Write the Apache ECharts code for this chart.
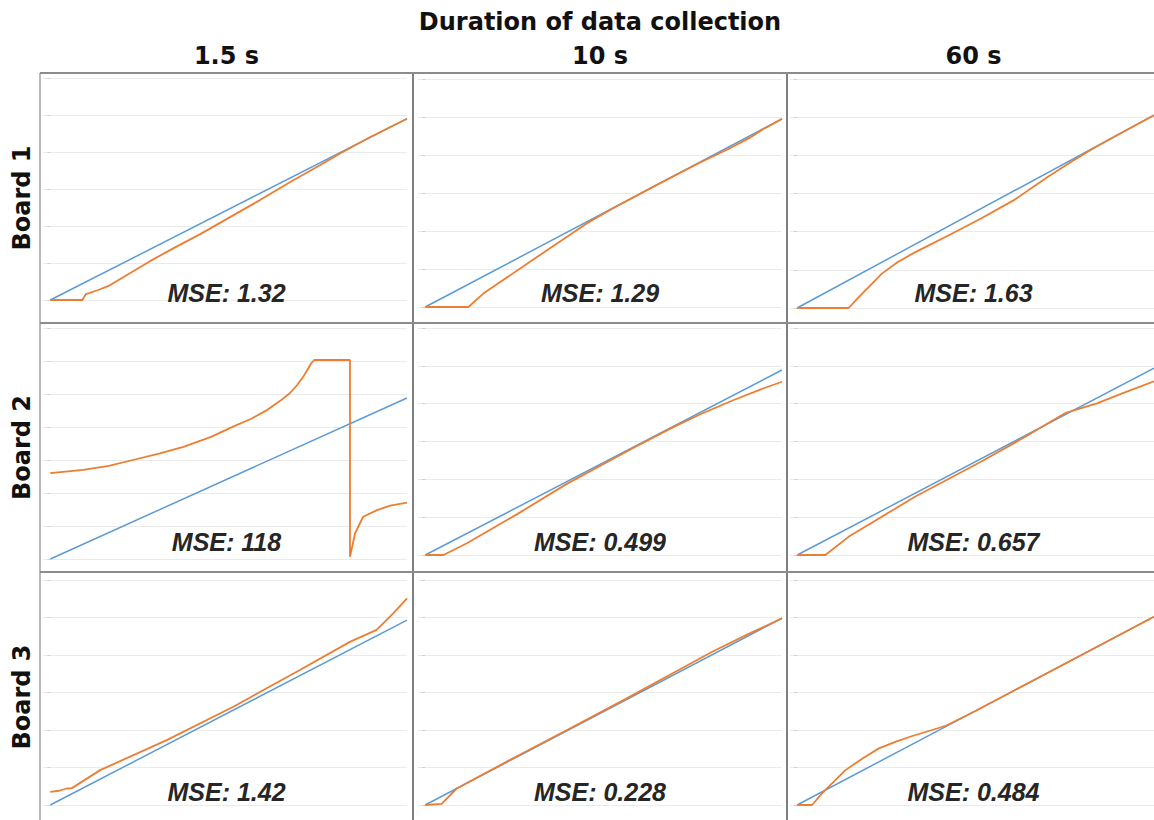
<!DOCTYPE html>
<html>
<head>
<meta charset="utf-8">
<title>Duration of data collection</title>
<script src="https://cdn.jsdelivr.net/npm/echarts@6/dist/echarts.min.js"></script>
<style>
  html, body { margin: 0; padding: 0; background: #ffffff; }
  #chart { width: 1154px; height: 820px; }
</style>
</head>
<body>
<div id="chart"></div>
<script>
// ---- data -------------------------------------------------------------
const headerTitle = 'Duration of data collection';
const durations = ['1.5 s', '10 s', '60 s'];
const boards = ['Board 1', 'Board 2', 'Board 3'];

// MSE of each board / duration
const mseValues = [
  ['1.32', '1.29', '1.63'],
  ['118', '0.499', '0.657'],
  ['1.42', '0.228', '0.484']
];

// last value of the ideal (y = x) reference line in each panel
const idealEnd = [
  [4.90, 4.95, 5.05],
  [4.88, 4.89, 4.94],
  [4.93, 4.98, 5.02]
];

// top of the value axis in each panel (gridline step is 1)
const yAxisMax = [
  [6, 6, 6],
  [7, 6, 6],
  [6, 6, 6]
];

// measured response, [input, output]
const board1_1s5 = [[0, 0], [0.44, 0], [0.49, 0.16], [0.66, 0.27], [0.80, 0.38], [1.03, 0.65],
  [1.37, 1.05], [1.72, 1.43], [2.06, 1.78], [2.47, 2.24], [2.88, 2.70], [3.29, 3.18],
  [3.71, 3.65], [3.98, 3.96], [4.39, 4.40], [4.90, 4.90]];
const board1_10s = [[0, 0], [0.60, 0], [0.81, 0.36], [1.50, 1.25], [2.24, 2.20], [2.60, 2.59],
  [3.20, 3.20], [3.80, 3.79], [4.20, 4.15], [4.50, 4.45], [4.70, 4.69], [4.95, 4.95]];
const board1_60s = [[0, 0], [0.73, 0], [0.88, 0.30], [1.02, 0.56], [1.20, 0.90], [1.42, 1.20],
  [1.66, 1.45], [2.14, 1.90], [2.61, 2.35], [3.08, 2.84], [3.55, 3.44], [3.88, 3.83],
  [4.20, 4.19], [4.60, 4.60], [5.05, 5.05]];

const board2_1s5 = [[0, 2.60], [0.45, 2.70], [0.80, 2.82], [1.13, 3.00], [1.50, 3.20], [1.82, 3.40],
  [2.20, 3.70], [2.50, 4.01], [2.75, 4.25], [2.97, 4.52], [3.15, 4.80], [3.28, 5.03],
  [3.38, 5.28], [3.46, 5.52], [3.53, 5.78], [3.57, 5.93], [3.61, 6.03], [4.10, 6.03],
  [4.10, 0.07], [4.17, 0.78], [4.28, 1.28], [4.47, 1.48], [4.65, 1.62], [4.88, 1.71]];
const board2_10s = [[0, 0], [0.25, 0], [0.57, 0.31], [1.26, 1.08], [1.94, 1.88], [2.85, 2.83],
  [3.40, 3.38], [3.77, 3.72], [4.22, 4.09], [4.60, 4.38], [4.89, 4.58]];
const board2_60s = [[0, 0], [0.39, 0], [0.71, 0.48], [1.63, 1.54], [2.55, 2.47], [3.20, 3.17],
  [3.46, 3.47], [3.72, 3.76], [3.90, 3.86], [4.15, 4.01], [4.50, 4.27], [4.94, 4.59]];

const board3_1s5 = [[0, 0.35], [0.12, 0.38], [0.23, 0.44], [0.30, 0.45], [0.69, 0.93], [1.61, 1.73],
  [2.53, 2.62], [3.45, 3.60], [4.14, 4.35], [4.51, 4.67], [4.74, 5.11], [4.93, 5.51]];
const board3_10s = [[0, 0], [0.23, 0.03], [0.44, 0.44], [1.20, 1.22], [2.00, 2.02], [2.80, 2.83],
  [3.50, 3.56], [4.00, 4.08], [4.50, 4.55], [4.98, 4.98]];
const board3_60s = [[0, 0], [0.21, 0], [0.35, 0.31], [0.68, 0.93], [0.92, 1.24], [1.15, 1.51],
  [1.39, 1.69], [1.62, 1.84], [1.90, 2.00], [2.10, 2.12], [2.50, 2.50], [3.50, 3.50],
  [4.30, 4.30], [5.02, 5.02]];

const measured = [
  [board1_1s5, board1_10s, board1_60s],
  [board2_1s5, board2_10s, board2_60s],
  [board3_1s5, board3_10s, board3_60s]
];

// ---- layout -----------------------------------------------------------
const colLeft = [40, 413, 787];
const colRight = [413, 787, 1160];
const rowTop = [73, 323, 572];
const rowBottom = [323, 572, 822];
const plotLeft = [43, 418, 790];
const plotRight = [407, 782, 1154];
const plotTop = [[78, 79, 79], [328, 328, 328], [580, 580, 580]];
const plotBottom = [[300, 307, 308], [559, 555, 555], [805, 805, 805]];

const BLUE = '#5B9BD5';
const ORANGE = '#ED7D31';
const HEAD_FONT = 'bold 24px "DejaVu Sans", sans-serif';
const MSE_FONT = 'italic bold 25px "Liberation Sans", Arial, sans-serif';

const grids = [], xAxes = [], yAxes = [], series = [], graphics = [];

for (let r = 0; r < 3; r++) {
  for (let c = 0; c < 3; c++) {
    const i = r * 3 + c;
    grids.push({
      left: plotLeft[c],
      top: plotTop[r][c],
      width: plotRight[c] - plotLeft[c],
      height: plotBottom[r][c] - plotTop[r][c],
      containLabel: false
    });
    xAxes.push({
      type: 'value', gridIndex: i, min: -0.1, max: idealEnd[r][c],
      show: false, splitLine: { show: false }
    });
    yAxes.push({
      type: 'value', gridIndex: i, min: 0, max: yAxisMax[r][c], interval: 1,
      axisLine: { show: false },
      axisLabel: { show: false },
      axisTick: { show: true, length: 3, lineStyle: { color: '#d0d0d0', width: 1 } },
      splitLine: { show: true, lineStyle: { color: '#ebebeb', width: 1 } }
    });
    const e = idealEnd[r][c];
    series.push({
      type: 'line', xAxisIndex: i, yAxisIndex: i,
      data: [[0, 0], [e, e]],
      symbol: 'none', z: 2,
      lineStyle: { color: BLUE, width: 1.5 }
    });
    series.push({
      type: 'line', xAxisIndex: i, yAxisIndex: i,
      data: measured[r][c],
      symbol: 'none', z: 3,
      lineStyle: { color: ORANGE, width: 1.8 }
    });
    // MSE caption inside each panel
    graphics.push({
      type: 'text', z: 100,
      x: (colLeft[c] + colRight[c]) / 2,
      y: rowBottom[r] - 30,
      style: {
        text: 'MSE: ' + mseValues[r][c],
        font: MSE_FONT, fill: '#262626',
        textAlign: 'center', textVerticalAlign: 'middle'
      }
    });
  }
}

// panel frame
graphics.push({ type: 'line', z: 90, shape: { x1: 40, y1: 73, x2: 40, y2: 820 },
  style: { stroke: '#b8b8b8', lineWidth: 2 } });
[413, 787].forEach(x => graphics.push({ type: 'line', z: 90, shape: { x1: x, y1: 73, x2: x, y2: 820 },
  style: { stroke: '#7f7f7f', lineWidth: 2 } }));
rowTop.forEach(y => graphics.push({ type: 'line', z: 90, shape: { x1: 40, y1: y, x2: 1154, y2: y },
  style: { stroke: '#8c8c8c', lineWidth: 2 } }));

// headings
graphics.push({ type: 'text', z: 100, x: 600, y: 22,
  style: { text: headerTitle, font: HEAD_FONT, fill: '#111', textAlign: 'center', textVerticalAlign: 'middle' } });
durations.forEach((d, c) => graphics.push({ type: 'text', z: 100, x: (colLeft[c] + colRight[c]) / 2, y: 56,
  style: { text: d, font: HEAD_FONT, fill: '#111', textAlign: 'center', textVerticalAlign: 'middle' } }));
boards.forEach((b, r) => graphics.push({ type: 'text', z: 100, x: 22, y: (rowTop[r] + rowBottom[r]) / 2,
  rotation: Math.PI / 2,
  style: { text: b, font: HEAD_FONT, fill: '#111', textAlign: 'center', textVerticalAlign: 'middle' } }));

const chart = echarts.init(document.getElementById('chart'), null, { renderer: 'svg' });
chart.setOption({
  animation: false,
  backgroundColor: '#ffffff',
  grid: grids,
  xAxis: xAxes,
  yAxis: yAxes,
  series: series,
  graphic: graphics
});
</script>
</body>
</html>
